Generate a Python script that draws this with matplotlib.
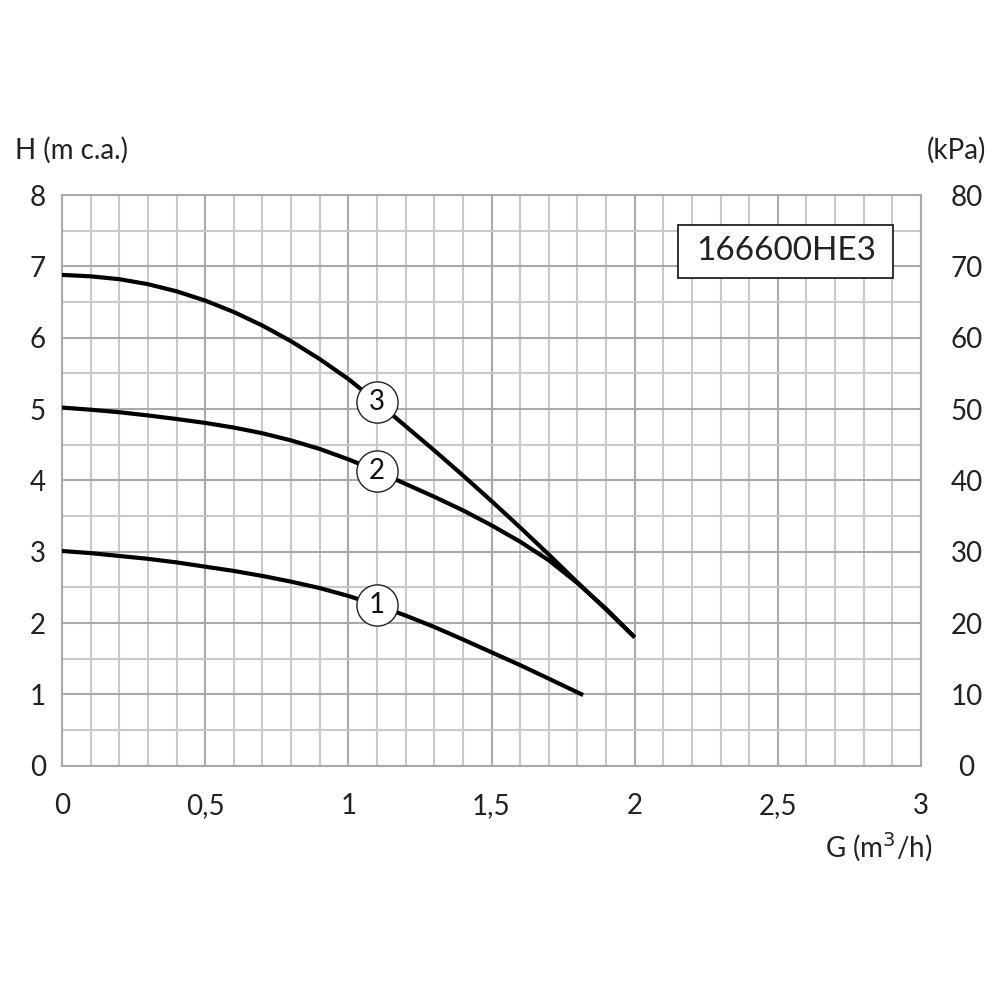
import numpy as np
import matplotlib
matplotlib.use("Agg")
import matplotlib.pyplot as plt
from matplotlib.patches import Rectangle

plt.rcParams['font.family'] = ['Lato', 'DejaVu Sans']

# Data
G1 = [0.0, 0.1, 0.2, 0.3, 0.4, 0.5, 0.6, 0.7, 0.8, 0.9, 1.0, 1.1, 1.2, 1.3, 1.4, 1.5, 1.6, 1.7, 1.82]
H1 = [3.01, 2.98, 2.94, 2.90, 2.85, 2.79, 2.73, 2.66, 2.58, 2.49, 2.38, 2.25, 2.105, 1.945, 1.77, 1.59, 1.41, 1.22, 0.99]

G2 = [0.0, 0.1, 0.2, 0.3, 0.4, 0.5, 0.6, 0.7, 0.8, 0.9, 1.0, 1.1, 1.2, 1.3, 1.4, 1.5, 1.6, 1.7, 1.8, 1.9, 2.0]
H2 = [5.02, 4.99, 4.955, 4.91, 4.86, 4.805, 4.74, 4.66, 4.56, 4.44, 4.295, 4.13, 3.95, 3.77, 3.58, 3.37, 3.14, 2.88, 2.56, 2.20, 1.80]

G3 = [0.0, 0.1, 0.2, 0.3, 0.4, 0.5, 0.6, 0.7, 0.8, 0.9, 1.0, 1.1, 1.2, 1.3, 1.4, 1.5, 1.6, 1.7, 1.8, 1.9, 2.0]
H3 = [6.88, 6.86, 6.82, 6.75, 6.65, 6.52, 6.36, 6.17, 5.95, 5.70, 5.42, 5.10, 4.76, 4.42, 4.07, 3.71, 3.34, 2.96, 2.57, 2.19, 1.80]

curve_labels = ["1", "2", "3"]
label_G = 1.1

x_ticks = [0, 0.5, 1, 1.5, 2, 2.5, 3]
x_ticklabels = ["0", "0,5", "1", "1,5", "2", "2,5", "3"]
y_ticks = [0, 1, 2, 3, 4, 5, 6, 7, 8]
y2_ticks = [0, 10, 20, 30, 40, 50, 60, 70, 80]
model_name = "166600HE3"

fig = plt.figure(figsize=(10, 10), dpi=100)
ax = fig.add_axes([0.062, 0.2343, 0.859, 0.5707])
ax.set_xlim(0, 3)
ax.set_ylim(0, 8)

minor_col = "#c9c9c9"
major_col = "#a9a9a9"
for gx in np.round(np.arange(0, 3.0001, 0.1), 2):
    major = abs(gx * 2 - round(gx * 2)) < 1e-6
    ax.axvline(gx, color=major_col if major else minor_col, lw=1.5, zorder=0)
for gy in np.arange(0, 8.0001, 0.5):
    major = abs(gy - round(gy)) < 1e-6
    ax.axhline(gy, color=major_col if major else minor_col, lw=1.5, zorder=0)

for s in ax.spines.values():
    s.set_color(major_col)
    s.set_linewidth(1.5)

ax.set_xticks(x_ticks)
ax.set_xticklabels(x_ticklabels)
ax.set_yticks(y_ticks)
ax.tick_params(length=0, labelsize=20, colors="#222222")
ax.tick_params(axis='x', pad=20)
ax.tick_params(axis='y', pad=0)
for lab in ax.get_yticklabels():
    lab.set_horizontalalignment('center')
    lab.set_x(-0.028)

ax2 = ax.twinx()
ax2.set_ylim(0, 80)
ax2.set_yticks(y2_ticks)
ax2.tick_params(length=0, labelsize=20, colors="#222222", pad=0)
for lab in ax2.get_yticklabels():
    lab.set_horizontalalignment('center')
    lab.set_x(1.053)
for s in ax2.spines.values():
    s.set_visible(False)

for G, H, lab in zip([G1, G2, G3], [H1, H2, H3], curve_labels):
    ax.plot(G, H, color="black", lw=3.0, solid_capstyle='butt',
            solid_joinstyle='round', zorder=3)
    hy = np.interp(label_G, G, H)
    ax.scatter([label_G], [hy], s=880, facecolor="white", edgecolor="#222222",
               linewidth=1.0, zorder=4)
    ax.text(label_G, hy, lab, ha="center", va="center", fontsize=20,
            color="#111111", zorder=5)

# model box
ax.add_patch(Rectangle((2.153, 6.84), 0.75, 0.74, facecolor="white",
                       edgecolor="#222222", lw=1.3, zorder=4))
ax.text(2.528, 7.21, model_name, ha="center", va="center", fontsize=24,
        color="#222222", zorder=5)

fig.text(0.015, 0.85, "H (m c.a.)", ha="left", va="center", fontsize=20, color="#222222")
fig.text(0.986, 0.85, "(kPa)", ha="right", va="center", fontsize=20, color="#222222")
fig.text(0.932, 0.153, "G (m$^3$/h)", ha="right", va="center", fontsize=20, color="#222222")

fig.savefig("out.png", dpi=100, facecolor="white")
